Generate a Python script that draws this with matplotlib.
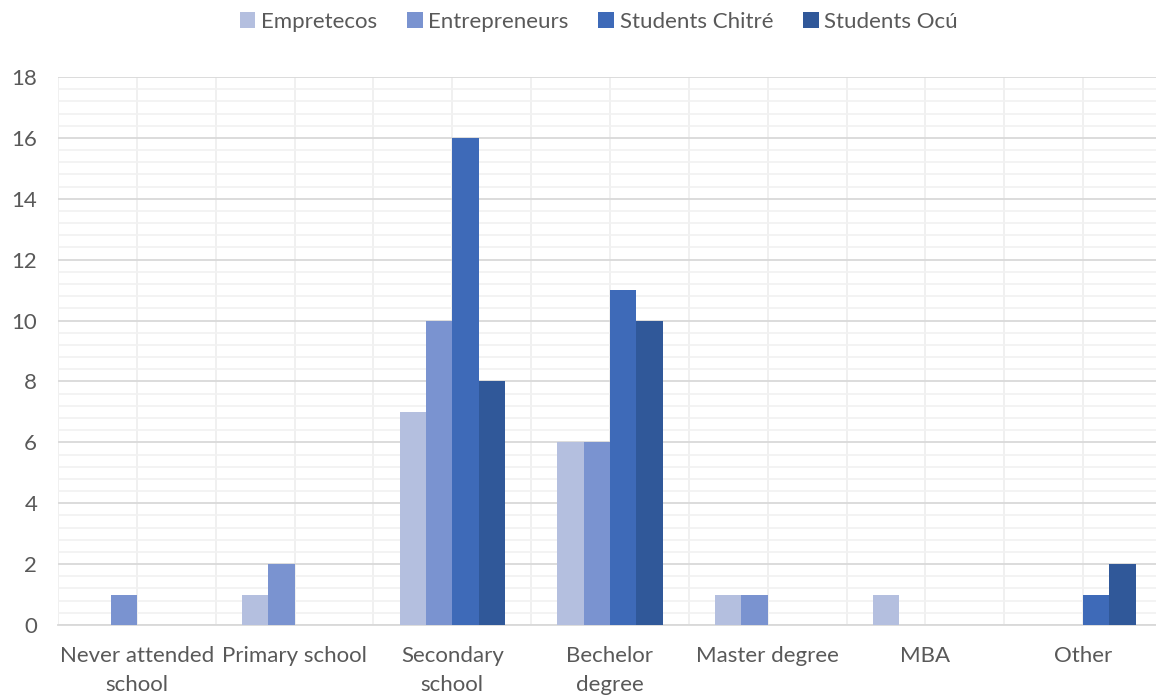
import matplotlib.pyplot as plt
import numpy as np

categories = ["Never attended\nschool", "Primary school", "Secondary\nschool",
              "Bechelor\ndegree", "Master degree", "MBA", "Other"]
series = ["Empretecos", "Entrepreneurs", "Students Chitré", "Students Ocú"]
empretecos = [0, 1, 7, 6, 1, 1, 0]
entrepreneurs = [1, 2, 10, 6, 1, 0, 0]
students_chitre = [0, 0, 16, 11, 0, 0, 1]
students_ocu = [0, 0, 8, 10, 0, 0, 2]
colors = ["#B4BFDF", "#7A93D0", "#3E6AB8", "#305899"]

plt.rcParams['font.family'] = ['Lato', 'DejaVu Sans']
txt = "#595959"

fig = plt.figure(figsize=(11.56, 6.97), dpi=100)
ax = fig.add_axes([58 / 1156, 72 / 697, 1104 / 1156, 548 / 697])

x = np.arange(len(categories))
w = 0.167
data = [empretecos, entrepreneurs, students_chitre, students_ocu]
for i, (vals, name, c) in enumerate(zip(data, series, colors)):
    ax.bar(x + (i - 1.5) * w, vals, w, color=c, label=name, zorder=3)

ax.set_xlim(-0.5, len(categories) - 0.5)
ax.set_ylim(0, 18)
ax.set_yticks(np.arange(0, 19, 2))
ax.set_yticks(np.arange(0, 18.01, 0.4), minor=True)
ax.set_xticks(x)
ax.set_xticks(np.arange(-0.5, len(categories), 1), minor=True)
ax.set_xticklabels(categories, linespacing=1.55)

ax.grid(True, axis='y', which='major', color='#D9D9D9', linewidth=1.3, zorder=0)
ax.grid(True, axis='y', which='minor', color='#F2F2F2', linewidth=1.3, zorder=0)
ax.grid(True, axis='x', which='both', color='#EFEFEF', linewidth=1.3, zorder=0)

ax.tick_params(axis='both', which='both', length=0, labelsize=16, colors=txt)
ax.tick_params(axis='x', pad=15)
ax.tick_params(axis='y', pad=15)
for s in ['top', 'right', 'left']:
    ax.spines[s].set_visible(False)
ax.spines['bottom'].set_color('#D9D9D9')
ax.spines['bottom'].set_linewidth(1.3)

fig.legend(loc='upper center', bbox_to_anchor=(0.518, 1.012), ncol=4, frameon=False,
           fontsize=16, labelcolor=txt, handlelength=0.7, handleheight=0.7,
           handletextpad=0.25, columnspacing=1.35)

fig.savefig("out.png", dpi=100)
